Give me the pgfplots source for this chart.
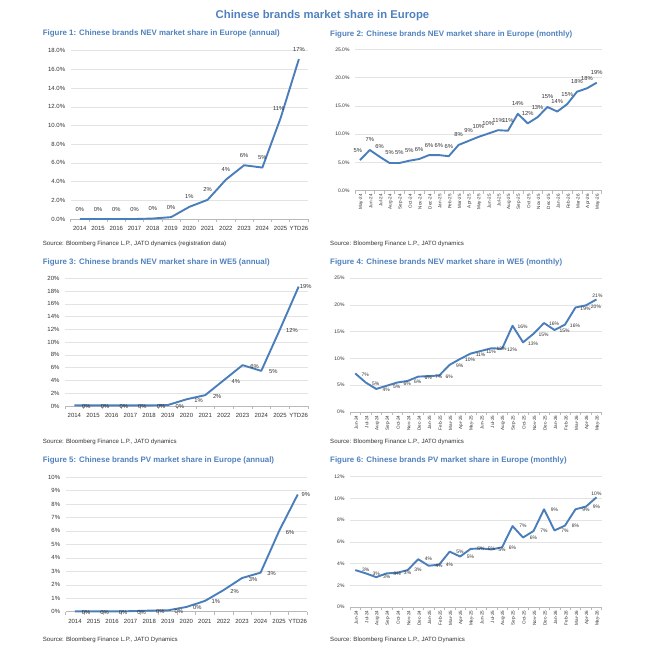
\documentclass[border=0pt]{standalone}
\usepackage{fontspec}
\setmainfont{Liberation Sans}
\usepackage{pgfplots}
\pgfplotsset{compat=1.18}
\usepackage{pgfplotstable}
\definecolor{ttl}{RGB}{79,129,189}
\definecolor{ln}{RGB}{74,126,187}
\definecolor{txt}{RGB}{50,50,50}

\newcommand{\tk}{\fontsize{6}{7}\selectfont}
\newcommand{\tks}{\fontsize{5}{6}\selectfont}
\newcommand{\mo}{\fontsize{4.6}{5}\selectfont}
\newcommand{\lbl}{\fontsize{5.8}{6.5}\selectfont}
\newcommand{\lbls}{\fontsize{5}{6}\selectfont}
\newcommand{\ft}{\fontsize{7.9}{9}\selectfont\bfseries}
\newcommand{\src}{\fontsize{6.1}{7}\selectfont}

\pgfplotstableread{
x y lab dx dy
0 0.00 0 0 10
1 0.00 0 0 10
2 0.00 0 0 10
3 0.00 0 0 10
4 0.05 0 0 10
5 0.20 0 0 10
6 1.30 1 0 10
7 2.05 2 0 10
8 4.20 4 0 10
9 5.75 6 0 10
10 5.50 5 0 10
11 10.80 11 -2 10
12 17.10 17 0 10
}\tA

\pgfplotstableread{
x y lab dx dy
0 5.4 5 -2 10
1 7.2 7 0 10
2 6.0 6 0 10
3 4.9 5 0 10
4 4.9 5 0 10
5 5.3 5 0 10
6 5.6 6 0 10
7 6.3 6 0 10
8 6.3 6 0 10
9 6.1 6 0 10
10 8.1 8 0 10
11 8.8 9 0 10
12 9.5 10 0 10
13 10.1 10 0 10
14 10.7 11 0 10
15 10.6 11 0 10
16 13.6 14 0 10
17 11.9 12 0 10
18 13.0 13 0 10
19 14.8 15 0 10
20 14.0 14 0 10
21 15.3 15 0 10
22 17.5 18 0 10
23 18.1 18 0 10
24 19.1 19 0 10
}\tB

\pgfplotstableread{
x y lab dx dy
0 0.10 0 12 -1
1 0.10 0 12 -1
2 0.10 0 12 -1
3 0.10 0 12 -1
4 0.10 0 12 -1
5 0.15 0 12 -1
6 1.05 1 12 -1
7 1.70 2 12 -1
8 4.05 4 12 -1
9 6.40 6 12 -1
10 5.50 5 12 -1
11 12.0 12 12 -1
12 18.7 19 7 0
}\tC

\pgfplotstableread{
x y lab dx dy
0 7.2 7 10 -1
1 5.5 5 10 -1
2 4.3 4 10 -1
3 4.9 5 10 -1
4 5.5 6 10 -1
5 5.8 6 10 -1
6 6.6 6 10 -1
7 6.7 7 10 -1
8 6.8 6 10 -1
9 8.8 9 10 -1
10 9.9 10 10 -1
11 10.9 11 10 -1
12 11.4 11 10 -1
13 11.9 12 10 -1
14 11.8 12 10 -1
15 16.1 16 10 -1
16 13.0 13 10 -1
17 14.6 15 10 -1
18 16.6 16 10 -1
19 15.3 15 10 -1
20 16.3 16 10 -1
21 19.5 19 10 -1
22 19.9 20 10 -1
23 21.0 21 1 4
}\tD

\pgfplotstableread{
x y lab dx dy
0 0.02 0 11 -1
1 0.02 0 11 -1
2 0.02 0 11 -1
3 0.04 0 11 -1
4 0.08 0 11 -1
5 0.10 0 11 -1
6 0.35 0 11 -1
7 0.80 1 11 -1
8 1.60 2 11 -1
9 2.50 3 11 -1
10 2.90 3 11 -1
11 6.00 6 11 -2
12 8.70 9 8 0
}\tE

\pgfplotstableread{
x y lab dx dy
0 3.40 3 10.4 0
1 3.10 3 10.4 0
2 2.75 3 10.4 0
3 3.10 3 10.4 0
4 3.15 3 10.4 0
5 3.40 3 10.4 0
6 4.40 4 10.4 0
7 3.80 4 10.4 0
8 3.90 4 10.4 0
9 5.10 5 10.4 0
10 4.65 5 10.4 0
11 5.35 5 10.4 0
12 5.40 5 10.4 0
13 5.30 5 10.4 0
14 5.50 6 10.4 0
15 7.45 7 10.4 0
16 6.40 6 10.4 0
17 7.00 7 10.4 0
18 9.00 9 10.4 0
19 7.05 7 10.4 0
20 7.50 8 10.4 0
21 9.00 9 10.4 0
22 9.25 9 10.4 0
23 10.10 10 0 4
}\tF

\pgfplotsset{
  panel/.style={
    scale only axis, clip=false,
    axis x line*=bottom, axis y line*=left,
    x axis line style={draw=gray!55, line width=0.6pt},
    y axis line style={draw=none},
    ytick style={draw=none},
    major x tick style={draw=none},
    ymajorgrids, grid style={draw=gray!22, line width=0.5pt},
    ymin=0,
    tick label style={font=\tk, text=txt},
    yticklabel style={xshift=-2pt},
    minor x tick style={draw=gray!55, line width=0.5pt},
    minor tick length=3pt, major tick length=0pt,
    tick align=outside,
  },
  annual/.style={
    xmin=-0.5, xmax=12.5, xtick={0,...,12},
    minor xtick={-0.5,0.5,...,12.5},
    xticklabels={2014,2015,2016,2017,2018,2019,2020,2021,2022,2023,2024,2025,YTD26},
    xticklabel style={yshift=-4pt},
  },
  monthly/.style={
    xticklabel style={rotate=90, anchor=east, font=\mo, yshift=-1pt},
  },
  dataline/.style={
    ln, line width=1.9pt, mark=none, line join=round,
    nodes near coords={\pgfplotspointmeta\%},
    point meta=explicit symbolic,
    visualization depends on={\thisrow{dx}\as\dx},
    visualization depends on={\thisrow{dy}\as\dy},
    every node near coord/.style={font=#1, text=txt, inner sep=0pt, anchor=center, xshift=\dx pt, yshift=\dy pt},
  },
}

\begin{document}
\begin{tikzpicture}
\path[use as bounding box] (0,0) rectangle (645pt,-657pt);

\node[font=\fontsize{11.3}{13}\selectfont\bfseries, text=ttl] at (322.5pt,-16pt) {Chinese brands market share in Europe};

% Panel 1
\node[anchor=west, font=\ft, text=ttl, inner sep=0pt] at (42.7pt,-33.7pt) {Figure 1: Chinese brands NEV market share in Europe (annual)};
\begin{axis}[panel, annual, at={(70.7pt,-219pt)}, anchor=south west, width=237.3pt, height=168.3pt,
  ymax=18, ytick={0,2,...,18},
  yticklabels={0.0\%,2.0\%,4.0\%,6.0\%,8.0\%,10.0\%,12.0\%,14.0\%,16.0\%,18.0\%}]
\addplot[dataline=\lbl] table[x=x,y=y,meta=lab]{\tA};
\end{axis}
\node[anchor=west, font=\src, text=txt, inner sep=0pt] at (42.7pt,-244pt) {Source: Bloomberg Finance L.P., JATO dynamics (registration data)};

% Panel 2
\node[anchor=west, font=\ft, text=ttl, inner sep=0pt] at (330pt,-34pt) {Figure 2: Chinese brands NEV market share in Europe (monthly)};
\begin{axis}[panel, monthly, at={(355pt,-190.7pt)}, anchor=south west, width=246.7pt, height=141.4pt,
  xmin=-0.5, xmax=24.5, xtick={0,...,24}, minor xtick={-0.5,0.5,...,24.5},
  xticklabels={May-24,Jun-24,Jul-24,Aug-24,Sep-24,Oct-24,Nov-24,Dec-24,Jan-25,Feb-25,Mar-25,Apr-25,May-25,Jun-25,Jul-25,Aug-25,Sep-25,Oct-25,Nov-25,Dec-25,Jan-26,Feb-26,Mar-26,Apr-26,May-26},
  ymax=25, ytick={0,5,...,25},
  yticklabels={0.0\%,5.0\%,10.0\%,15.0\%,20.0\%,25.0\%},
  yticklabel style={font=\tks}]
\addplot[dataline=\lbl] table[x=x,y=y,meta=lab]{\tB};
\end{axis}
\node[anchor=west, font=\src, text=txt, inner sep=0pt] at (330pt,-244pt) {Source: Bloomberg Finance L.P., JATO dynamics};

% Panel 3
\node[anchor=west, font=\ft, text=ttl, inner sep=0pt] at (42.7pt,-262.3pt) {Figure 3: Chinese brands NEV market share in WE5 (annual)};
\begin{axis}[panel, annual, at={(65pt,-406pt)}, anchor=south west, width=243pt, height=127.7pt,
  ymax=20, ytick={0,2,...,20},
  yticklabels={0\%,2\%,4\%,6\%,8\%,10\%,12\%,14\%,16\%,18\%,20\%}]
\addplot[dataline=\lbl] table[x=x,y=y,meta=lab]{\tC};
\end{axis}
\node[anchor=west, font=\src, text=txt, inner sep=0pt] at (42.7pt,-442.3pt) {Source: Bloomberg Finance L.P., JATO dynamics};

% Panel 4
\node[anchor=west, font=\ft, text=ttl, inner sep=0pt] at (330pt,-262.3pt) {Figure 4: Chinese brands NEV market share in WE5 (monthly)};
\begin{axis}[panel, monthly, at={(350pt,-412pt)}, anchor=south west, width=251.7pt, height=134pt,
  xmin=-0.5, xmax=23.5, xtick={0,...,23}, minor xtick={-0.5,0.5,...,23.5},
  xticklabels={Jun-24,Jul-24,Aug-24,Sep-24,Oct-24,Nov-24,Dec-24,Jan-25,Feb-25,Mar-25,Apr-25,May-25,Jun-25,Jul-25,Aug-25,Sep-25,Oct-25,Nov-25,Dec-25,Jan-26,Feb-26,Mar-26,Apr-26,May-26},
  ymax=25, ytick={0,5,...,25},
  yticklabels={0\%,5\%,10\%,15\%,20\%,25\%},
  yticklabel style={font=\tks}]
\addplot[dataline=\lbls] table[x=x,y=y,meta=lab]{\tD};
\end{axis}
\node[anchor=west, font=\src, text=txt, inner sep=0pt] at (330pt,-442pt) {Source: Bloomberg Finance L.P., JATO dynamics};

% Panel 5
\node[anchor=west, font=\ft, text=ttl, inner sep=0pt] at (42.7pt,-460.7pt) {Figure 5: Chinese brands PV market share in Europe (annual)};
\begin{axis}[panel, annual, at={(65.7pt,-611.7pt)}, anchor=south west, width=241.3pt, height=134.7pt,
  ymax=10, ytick={0,1,...,10},
  yticklabels={0\%,1\%,2\%,3\%,4\%,5\%,6\%,7\%,8\%,9\%,10\%}]
\addplot[dataline=\lbl] table[x=x,y=y,meta=lab]{\tE};
\end{axis}
\node[anchor=west, font=\src, text=txt, inner sep=0pt] at (42.7pt,-640.3pt) {Source: Bloomberg Finance L.P., JATO Dynamics};

% Panel 6
\node[anchor=west, font=\ft, text=ttl, inner sep=0pt] at (330pt,-460.7pt) {Figure 6: Chinese brands PV market share in Europe (monthly)};
\begin{axis}[panel, monthly, at={(350pt,-607pt)}, anchor=south west, width=251.7pt, height=130.3pt,
  xmin=-0.5, xmax=23.5, xtick={0,...,23}, minor xtick={-0.5,0.5,...,23.5},
  xticklabels={Jun-24,Jul-24,Aug-24,Sep-24,Oct-24,Nov-24,Dec-24,Jan-25,Feb-25,Mar-25,Apr-25,May-25,Jun-25,Jul-25,Aug-25,Sep-25,Oct-25,Nov-25,Dec-25,Jan-26,Feb-26,Mar-26,Apr-26,May-26},
  ymax=12, ytick={0,2,...,12},
  yticklabels={0\%,2\%,4\%,6\%,8\%,10\%,12\%},
  yticklabel style={font=\tks}]
\addplot[dataline=\lbls] table[x=x,y=y,meta=lab]{\tF};
\end{axis}
\node[anchor=west, font=\src, text=txt, inner sep=0pt] at (330pt,-640pt) {Source: Bloomberg Finance L.P., JATO Dynamics};
\end{tikzpicture}
\end{document}
